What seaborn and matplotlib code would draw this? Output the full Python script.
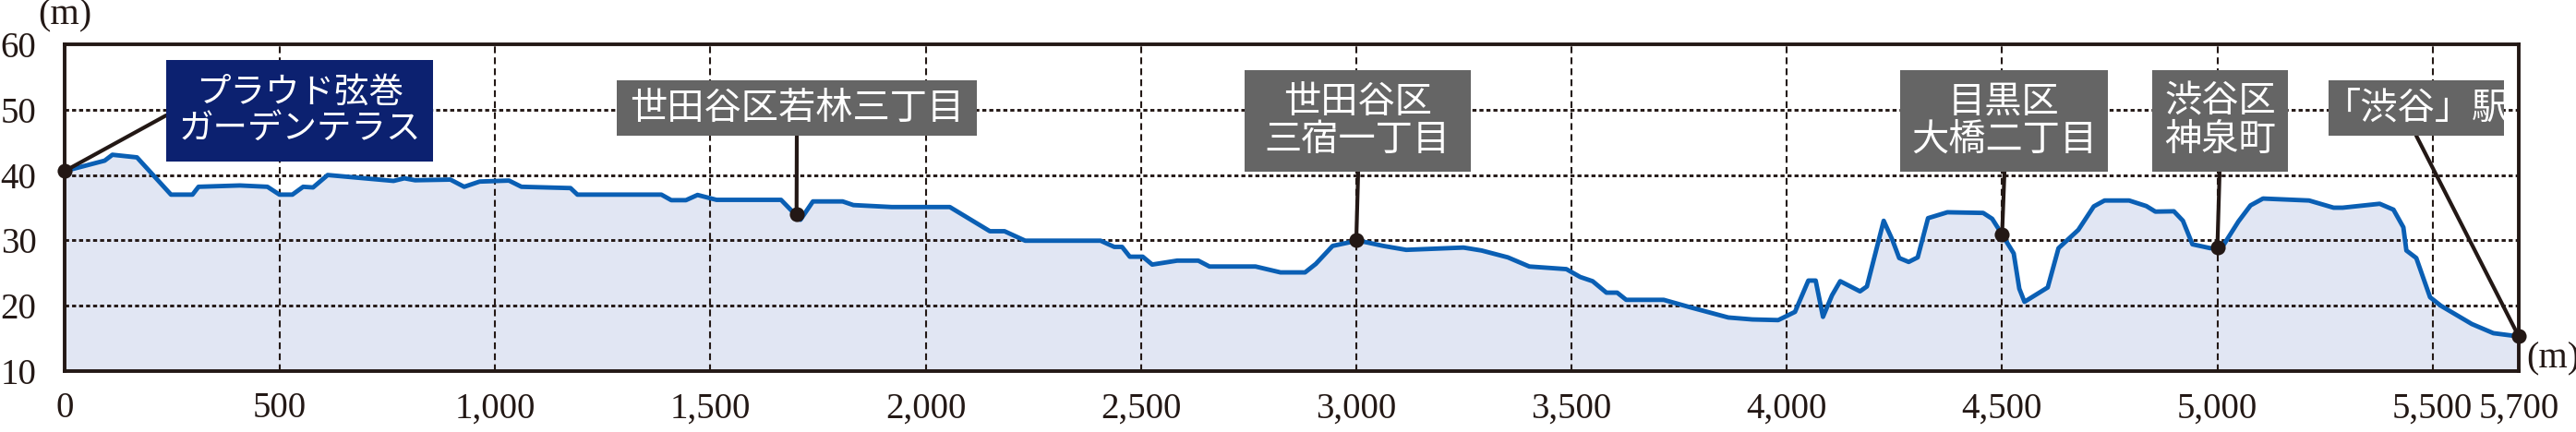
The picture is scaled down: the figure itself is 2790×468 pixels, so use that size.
import matplotlib
matplotlib.use("Agg")
import matplotlib.pyplot as plt
import seaborn as sns
import pandas as pd
from matplotlib.patches import Rectangle

# ---------------- data ----------------
distance_m = [0, 93, 111, 168, 247, 297, 311, 407, 471, 499, 529, 554, 577, 611,
              764, 789, 814, 896, 928, 964, 1032, 1061, 1175, 1191, 1386, 1409,
              1443, 1470, 1514, 1664, 1709, 1738, 1807, 1832, 1921, 2056, 2149,
              2183, 2231, 2406, 2438, 2456, 2474, 2504, 2526, 2584, 2633, 2659,
              2766, 2824, 2881, 2906, 2945, 2984, 3000, 3024, 3063, 3116, 3249,
              3291, 3352, 3402, 3488, 3520, 3549, 3581, 3606, 3627, 3714, 3779,
              3864, 3920, 3980, 4019, 4050, 4067, 4084, 4105, 4124, 4170, 4186,
              4225, 4245, 4261, 4283, 4304, 4328, 4373, 4456, 4477, 4500, 4527,
              4540, 4552, 4606, 4631, 4677, 4713, 4738, 4795, 4835, 4856, 4899,
              4920, 4942, 4984, 5000, 5013, 5049, 5077, 5106, 5213, 5270, 5291,
              5377, 5409, 5432, 5439, 5462, 5494, 5519, 5591, 5641, 5700]
elevation_m = [40.6, 42.2, 43.1, 42.7, 37.0, 37.0, 38.2, 38.4, 38.2, 37.0, 37.0,
               38.2, 38.1, 40.0, 39.1, 39.5, 39.2, 39.3, 38.2, 39.0, 39.15, 38.2,
               38.0, 37.0, 37.0, 36.15, 36.15, 36.95, 36.2, 36.2, 33.15, 35.96,
               35.96, 35.4, 35.1, 35.1, 31.4, 31.4, 29.95, 29.95, 29.0, 29.0,
               27.5, 27.5, 26.3, 26.9, 26.9, 26.0, 26.0, 25.1, 25.1, 26.4, 29.15,
               29.7, 30.0, 29.7, 29.15, 28.55, 28.9, 28.45, 27.4, 26.0, 25.6, 24.4,
               23.75, 22.0, 22.0, 20.9, 20.9, 19.7, 18.2, 17.9, 17.8, 19.06, 23.85,
               23.85, 18.3, 21.6, 23.75, 22.2, 22.95, 33.0, 30.1, 27.3, 26.7, 27.4,
               33.4, 34.3, 34.2, 33.3, 30.9, 28.0, 22.6, 20.6, 22.8, 28.8, 31.6,
               35.2, 36.1, 36.1, 35.25, 34.4, 34.45, 33.0, 29.4, 28.8, 28.9, 29.15,
               32.9, 35.35, 36.4, 36.1, 35.0, 35.0, 35.6, 34.7, 32.0, 28.45, 27.3,
               21.3, 20.0, 17.2, 15.8, 15.3]

landmark_names = ["プラウド弦巻\nガーデンテラス", "世田谷区若林三丁目", "世田谷区\n三宿一丁目",
                  "目黒区\n大橋二丁目", "渋谷区\n神泉町", "「渋谷」駅"]
landmark_x = [0, 1700, 3000, 4500, 5000, 5700]
landmark_y = [40.6, 34.0, 30.0, 30.9, 28.9, 15.3]

x_ticks = [0, 500, 1000, 1500, 2000, 2500, 3000, 3500, 4000, 4500, 5000, 5500, 5700]
x_tick_labels = ["0", "500", "1,000", "1,500", "2,000", "2,500", "3,000", "3,500",
                 "4,000", "4,500", "5,000", "5,500", "5,700"]
y_ticks = [10, 20, 30, 40, 50, 60]
y_tick_labels = ["10", "20", "30", "40", "50", "60"]
unit_label = "(m)"

# ---------------- style ----------------
sns.set_theme(style="white")
plt.rcParams["font.family"] = ["Liberation Serif", "DejaVu Serif"]
CJK = ["Noto Sans CJK JP", "DejaVu Sans"]

W, H = 2790, 468
BLACK = "#231815"
BLUE = "#0a5fb4"
FILL = "#e1e6f3"
NAVY = "#0c2170"
GRAY = "#656565"

fig = plt.figure(figsize=(W / 100, H / 100), dpi=100)
ax_l, ax_r, ax_t, ax_b = 70, 2728, 48, 402
ax = fig.add_axes([ax_l / W, 1 - ax_b / H, (ax_r - ax_l) / W, (ax_b - ax_t) / H])

df = pd.DataFrame({"distance": distance_m, "elevation": elevation_m})
ax.fill_between(df["distance"], df["elevation"], 10, color=FILL, lw=0, zorder=1)
sns.lineplot(data=df, x="distance", y="elevation", ax=ax, color=BLUE,
             linewidth=3.5, zorder=4, sort=False)

ax.set_xlim(0, 5700)
ax.set_ylim(10, 60)

# grid
for yv in y_ticks[1:-1]:
    ax.axhline(yv, color=BLACK, lw=2.1, ls=(0, (1.5, 1.1)), zorder=2)
for xv in x_ticks[1:-1]:
    ax.axvline(xv, color=BLACK, lw=1.5, ls=(0, (3.5, 2.2)), zorder=2)

ax.set_xticks(x_ticks)
ax.set_xticklabels(x_tick_labels)
ax.set_yticks(y_ticks)
ax.set_yticklabels(y_tick_labels)
ax.tick_params(axis="both", length=0, labelsize=28, colors=BLACK)
ax.tick_params(axis="x", pad=16)
ax.tick_params(axis="y", pad=22)
ax.set_xlabel("")
ax.set_ylabel("")
for s in ax.spines.values():
    s.set_visible(True)
    s.set_color(BLACK)
    s.set_linewidth(2.8)
    s.set_zorder(6)

# markers
ax.scatter(landmark_x, landmark_y, s=135, color=BLACK, zorder=7, clip_on=False, lw=0)

# boxes (pixel layout): x0, x1, y_top, y_bottom, color, fontsize, connector start
boxes = [
    (180, 469, 65, 175, NAVY, 27, (180, 125)),
    (668, 1058, 87, 147, GRAY, 29, (863, 147)),
    (1348, 1593, 76, 186, GRAY, 29, (1471, 186)),
    (2058, 2283, 76, 186, GRAY, 29, (2171, 186)),
    (2331, 2478, 76, 186, GRAY, 29, (2404, 186)),
    (2522, 2712, 87, 147, GRAY, 29, (2617, 147)),
]
for name, lx, ly, (x0, x1, y0, y1, col, fs, cstart) in zip(
        landmark_names, landmark_x, landmark_y, boxes):
    rect = Rectangle((x0 / W, 1 - y1 / H), (x1 - x0) / W, (y1 - y0) / H,
                     transform=fig.transFigure, facecolor=col, edgecolor="none",
                     zorder=10)
    fig.patches.append(rect)
    fig.text((x0 + x1) / 2 / W, 1 - (y0 + y1) / 2 / H, name, ha="center",
             va="center", color="white", fontsize=fs, family=CJK,
             linespacing=1.0, zorder=11)
    ax.annotate("", xy=(lx, ly), xycoords="data",
                xytext=(cstart[0], H - cstart[1]), textcoords="figure pixels",
                arrowprops=dict(arrowstyle="-", color=BLACK, lw=3.0,
                                shrinkA=0, shrinkB=0),
                annotation_clip=False, zorder=5)

# unit labels
fig.text(70 / W, 1 - 17 / H, unit_label, ha="center", va="center",
         fontsize=29, color=BLACK)
fig.text(2765 / W, 1 - 389 / H, unit_label, ha="center", va="center",
         fontsize=29, color=BLACK)

fig.savefig("out.png", dpi=100)
